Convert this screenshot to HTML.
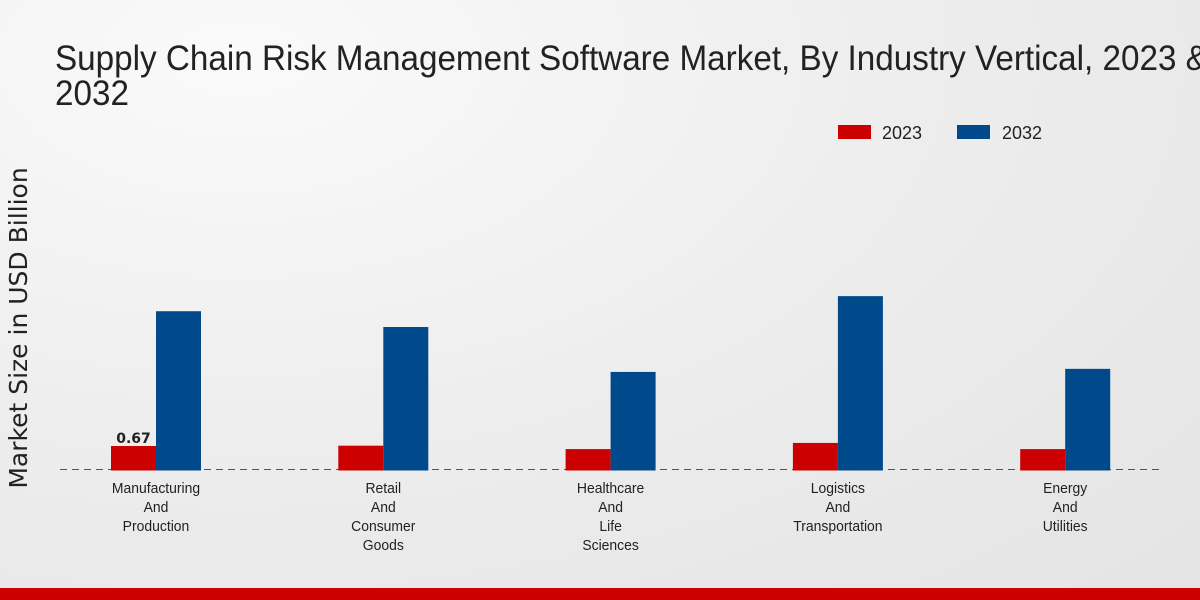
<!DOCTYPE html>
<html><head><meta charset="utf-8"><style>
body{margin:0;width:1200px;height:600px;overflow:hidden;background:radial-gradient(ellipse at 20% 10%,#fafafa 0%,#ececec 55%,#e4e4e4 100%);font-family:"Liberation Sans",sans-serif}
svg{position:absolute;left:0;top:0}
</style></head><body>
<svg width="1200" height="600">
<g transform="translate(55,0) scale(0.95,1)">
<text x="0" y="70" font-size="35" fill="#222">Supply Chain Risk Management Software Market, By Industry Vertical, 2023 &amp;</text>
<text x="0" y="105" font-size="35" fill="#222">2032</text>
</g>
<text transform="translate(27,328) rotate(-90)" text-anchor="middle" font-size="25" fill="#222" font-family="DejaVu Sans, sans-serif">Market Size in USD Billion</text>
<g>
<rect x="838" y="125" width="33" height="14" fill="#cc0000"/>
<text x="882" y="139" font-size="18" fill="#222">2023</text>
<rect x="957" y="125" width="33" height="14" fill="#00498a"/>
<text x="1002" y="139" font-size="18" fill="#222">2032</text>
</g>
<line x1="60" y1="469.5" x2="1160" y2="469.5" stroke="#555" stroke-dasharray="7,5"/>
<g id="bars"></g>
<rect x="0" y="588" width="1200" height="12" fill="#cc0000"/>
</svg>
<script>
const categories=[["Manufacturing","And","Production"],["Retail","And","Consumer","Goods"],["Healthcare","And","Life","Sciences"],["Logistics","And","Transportation"],["Energy","And","Utilities"]];
const values2023=[0.67,0.68,0.58,0.76,0.58];
const values2032=[4.6,4.14,2.83,5.04,2.92];
const base=469,scale=34.3,x0=156,step=227.3,bw=45;
const y=v=>base-v*scale;
const g=document.getElementById('bars');
const NS='http://www.w3.org/2000/svg';
categories.forEach((c,i)=>{
 const cx=x0+i*step;
 const r=document.createElementNS(NS,'rect');
 r.setAttribute('x',cx-bw);r.setAttribute('y',y(values2023[i]));r.setAttribute('width',bw);r.setAttribute('height',values2023[i]*scale+1.5);r.setAttribute('fill','#cc0000');
 
 
 g.appendChild(r);
 const b=document.createElementNS(NS,'rect');
 b.setAttribute('x',cx);b.setAttribute('y',y(values2032[i]));b.setAttribute('width',bw);b.setAttribute('height',values2032[i]*scale+1.5);b.setAttribute('fill','#00498a');
 
 
 g.appendChild(b);
 c.forEach((l,j)=>{
  const t=document.createElementNS(NS,'text');
  t.setAttribute('x',cx);t.setAttribute('y',493+j*19);t.setAttribute('text-anchor','middle');t.setAttribute('font-size','15');t.setAttribute('fill','#222');
  t.setAttribute('transform','translate('+cx+',0) scale(0.93,1) translate('+(-cx)+',0)');
  t.textContent=l;
  
  
  g.appendChild(t);
 });
 if(i===0){
  const t=document.createElementNS(NS,'text');
  t.setAttribute('x',cx-bw/2);t.setAttribute('y',y(values2023[i])-3);t.setAttribute('text-anchor','middle');t.setAttribute('font-size','14');t.setAttribute('font-weight','bold');t.setAttribute('font-family','DejaVu Sans, sans-serif');t.setAttribute('fill','#222');
  t.textContent=values2023[i].toFixed(2);
  
  
  g.appendChild(t);
 }
});
</script>
</body></html>
